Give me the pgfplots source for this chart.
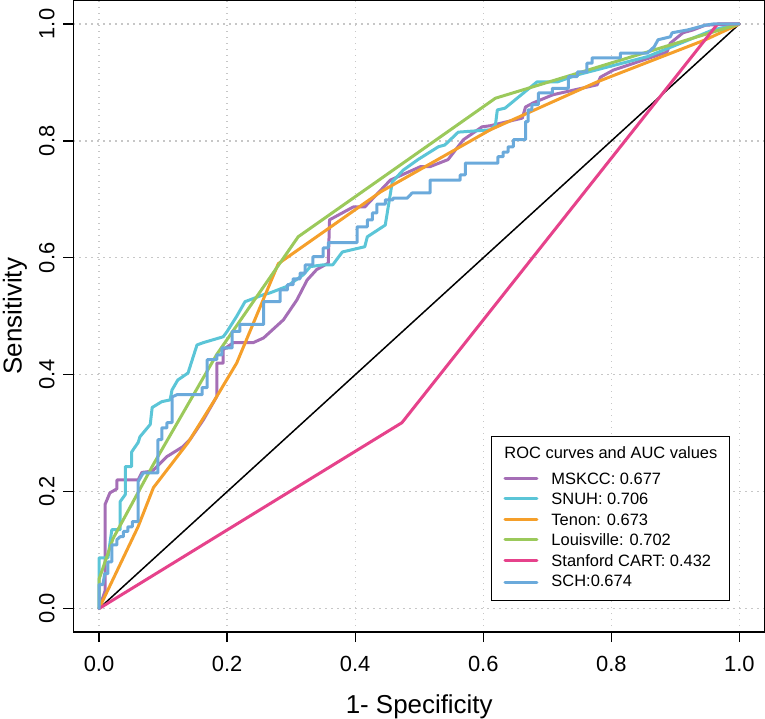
\documentclass[border=0pt]{standalone}
\usepackage{pgfplots}
\pgfplotsset{compat=1.18}
\usepackage{fontspec}
\setmainfont{Liberation Sans}
\definecolor{cMSK}{HTML}{A56EB6}
\definecolor{cSNUH}{HTML}{5BC5D7}
\definecolor{cTenon}{HTML}{F59F2A}
\definecolor{cLou}{HTML}{9BC95B}
\definecolor{cStan}{HTML}{E6428B}
\definecolor{cSCH}{HTML}{6BAADB}
\begin{document}
\begin{tikzpicture}
\path[use as bounding box] (-73.4bp,-87bp) rectangle (691.6bp,632bp);
\begin{axis}[
  scale only axis, width=691.6bp, height=631.4bp,
  xmin=-0.04, xmax=1.04, ymin=-0.04, ymax=1.04,
  xtick={0,0.2,0.4,0.6,0.8,1}, ytick={0,0.2,0.4,0.6,0.8,1},
  tick pos=left, tick align=outside, major tick length=10bp,
  tick style={black, line width=1.3bp},
  axis line style={line width=1.5bp},
  grid=major,
  major grid style={draw=black!22, line width=1.2bp, dash pattern=on 1.2bp off 4.8bp},
  /pgf/number format/.cd, fixed, fixed zerofill, precision=1, assume math mode=true, /pgfplots/.cd,
  ticklabel style={font=\fontsize{22}{26}\selectfont, inner sep=0pt},
  xticklabel shift=13.5bp,
  yticklabel style={rotate=90, anchor=south},
  yticklabel shift=8.5bp,
  xlabel={1- Specificity}, ylabel={Sensitivity},
  label style={font=\fontsize{26}{30}\selectfont, inner sep=0pt},
  xlabel style={at={(axis description cs:0.5,-0.1283)}, anchor=base},
  ylabel style={at={(axis description cs:-0.0748,0.5)}, anchor=base},
  legend cell align=left,
  legend style={at={(axis description cs:0.9494,0.0491)}, anchor=south east,
    draw=black, line width=1.3bp, fill=white, inner xsep=12bp, inner ysep=10bp,
    font=\fontsize{16.5}{19}\selectfont, row sep=8.5bp, column sep=13bp,
    nodes={inner sep=0pt, text height=12bp, text depth=0bp}},
  legend image code/.code={\draw[line width=3bp] (0bp,0bp) -- (32bp,0bp);},
  every axis plot/.append style={line width=3bp, line join=round, line cap=round},
]
\addplot[black, line width=1.5bp, forget plot] coordinates {(0,0) (1,1)};
\addlegendimage{empty legend}
\addlegendentry[text depth=5.5bp]{\hspace{-47bp}ROC curves and AUC values}
\addplot[cMSK] coordinates {
(0,0) (0.0094,0.03) (0.0094,0.178) (0.017,0.198) (0.028,0.205) (0.028,0.22) (0.061,0.22) (0.067,0.233) (0.083,0.235) (0.106,0.26) (0.131,0.277) (0.142,0.289) (0.163,0.323) (0.184,0.363) (0.184,0.42) (0.194,0.42) (0.194,0.443) (0.21,0.455) (0.241,0.455) (0.257,0.463) (0.288,0.494) (0.309,0.528) (0.325,0.562) (0.34,0.58) (0.358,0.591) (0.36,0.665) (0.397,0.687) (0.415,0.687) (0.455,0.733) (0.502,0.756) (0.517,0.756) (0.545,0.768) (0.569,0.802) (0.598,0.824) (0.611,0.826) (0.661,0.839) (0.666,0.858) (0.678,0.865) (0.709,0.879) (0.778,0.896) (0.783,0.909) (0.803,0.921) (0.887,0.952) (0.892,0.967) (0.912,0.985) (0.928,0.99) (0.947,0.998) (1,1)};
\addlegendentry{MSKCC: 0.677}
\addplot[cSNUH] coordinates {
(0,0) (0,0.087) (0.014,0.087) (0.02,0.135) (0.033,0.135) (0.033,0.183) (0.041,0.195) (0.041,0.243) (0.051,0.243) (0.051,0.268) (0.061,0.284) (0.064,0.294) (0.08,0.315) (0.083,0.344) (0.098,0.354) (0.111,0.357) (0.114,0.374) (0.123,0.391) (0.139,0.403) (0.153,0.451) (0.163,0.455) (0.194,0.465) (0.2,0.474) (0.215,0.5) (0.228,0.525) (0.257,0.537) (0.267,0.54) (0.293,0.551) (0.319,0.571) (0.33,0.585) (0.35,0.588) (0.365,0.588) (0.38,0.61) (0.415,0.619) (0.419,0.636) (0.447,0.656) (0.458,0.73) (0.475,0.75) (0.498,0.768) (0.53,0.79) (0.54,0.793) (0.561,0.815) (0.611,0.819) (0.619,0.827) (0.622,0.853) (0.634,0.856) (0.684,0.901) (0.716,0.901) (0.747,0.913) (0.856,0.944) (0.908,0.967) (0.959,0.99) (1,1)};
\addlegendentry{SNUH: 0.706}
\addplot[cTenon] coordinates {
(0,0) (0.061,0.14) (0.085,0.207) (0.139,0.284) (0.179,0.354) (0.215,0.42) (0.257,0.53) (0.28,0.59) (0.44,0.713) (0.611,0.819) (0.778,0.901) (0.947,0.973) (1,1)};
\addlegendentry{Tenon: 0.673}
\addplot[cLou] coordinates {
(0,0) (0,0.05) (0.022,0.12) (0.084,0.245) (0.184,0.435) (0.311,0.636) (0.619,0.873) (1,1)};
\addlegendentry{Louisville: 0.702}
\addplot[cStan] coordinates {
(0,0) (0.473,0.318) (0.966,1) (1,1)};
\addlegendentry{Stanford CART: 0.432}
\addplot[cSCH] coordinates {
(0,0) (0,0.041) (0.006,0.041) (0.009,0.06) (0.014,0.06) (0.014,0.08) (0.02,0.08) (0.02,0.109) (0.028,0.109) (0.028,0.118) (0.033,0.123) (0.038,0.123) (0.038,0.132) (0.045,0.132) (0.045,0.14) (0.052,0.14) (0.052,0.149) (0.061,0.149) (0.061,0.217) (0.069,0.232) (0.092,0.232) (0.092,0.289) (0.098,0.289) (0.098,0.309) (0.106,0.309) (0.106,0.318) (0.114,0.318) (0.114,0.362) (0.122,0.366) (0.161,0.366) (0.161,0.378) (0.169,0.378) (0.169,0.426) (0.184,0.426) (0.184,0.434) (0.192,0.434) (0.192,0.446) (0.208,0.446) (0.208,0.474) (0.22,0.474) (0.22,0.486) (0.257,0.486) (0.257,0.525) (0.283,0.525) (0.283,0.545) (0.294,0.545) (0.294,0.554) (0.303,0.554) (0.303,0.564) (0.314,0.564) (0.314,0.574) (0.322,0.574) (0.322,0.588) (0.334,0.588) (0.334,0.602) (0.35,0.602) (0.35,0.617) (0.358,0.617) (0.358,0.626) (0.403,0.626) (0.403,0.653) (0.419,0.653) (0.419,0.665) (0.427,0.665) (0.427,0.677) (0.434,0.677) (0.434,0.692) (0.447,0.692) (0.447,0.699) (0.459,0.699) (0.459,0.702) (0.481,0.702) (0.489,0.711) (0.517,0.711) (0.517,0.733) (0.564,0.733) (0.564,0.742) (0.572,0.742) (0.572,0.762) (0.623,0.762) (0.623,0.773) (0.631,0.773) (0.631,0.781) (0.639,0.781) (0.639,0.79) (0.647,0.79) (0.647,0.802) (0.666,0.802) (0.666,0.833) (0.67,0.833) (0.67,0.853) (0.676,0.853) (0.676,0.862) (0.686,0.862) (0.686,0.882) (0.708,0.882) (0.708,0.89) (0.733,0.89) (0.733,0.91) (0.747,0.91) (0.747,0.918) (0.762,0.918) (0.762,0.933) (0.77,0.933) (0.77,0.942) (0.814,0.942) (0.814,0.95) (0.856,0.95) (0.867,0.961) (0.873,0.973) (0.892,0.978) (0.895,0.985) (0.92,0.99) (0.947,0.998) (0.959,1) (1,1)};
\addlegendentry[text depth=3.5bp]{SCH:0.674}
\end{axis}
\end{tikzpicture}
\end{document}
